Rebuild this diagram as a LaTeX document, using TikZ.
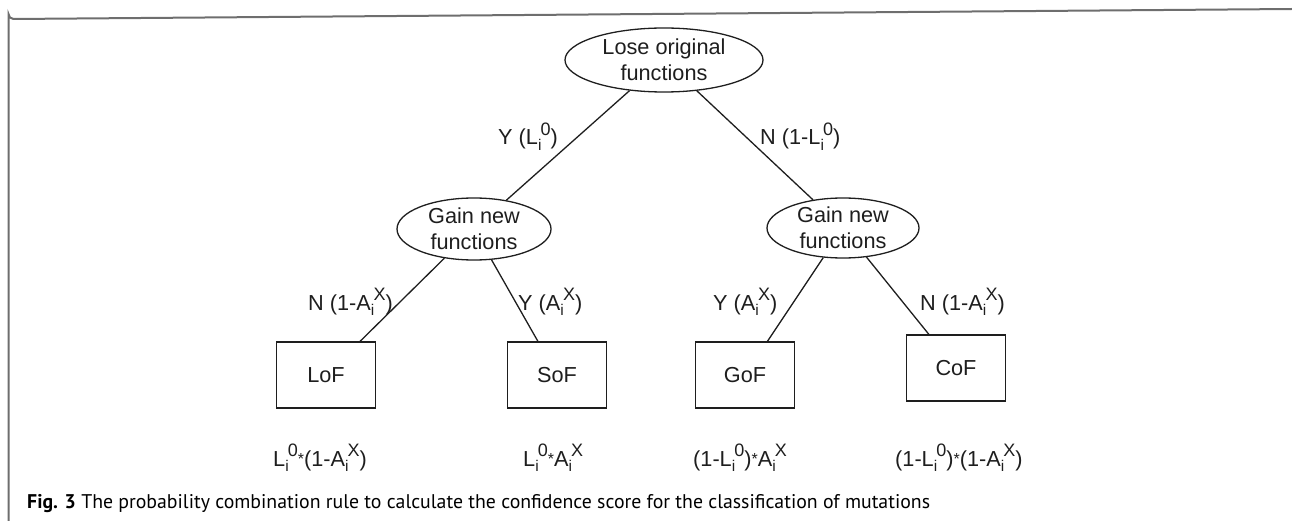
\documentclass[tikz,border=0pt]{standalone}
\usepackage{fontspec}
\setmainfont{Liberation Sans}
\newfontfamily\capfont{PT Sans}
\usetikzlibrary{shapes.geometric}
\definecolor{framegray}{RGB}{110,110,110}
\definecolor{ink}{RGB}{30,30,30}
\newcommand\sbsp[3]{#1\rlap{\raisebox{-0.24em}{\fontsize{15.5}{16}\selectfont #2}}\kern0.12em\raisebox{0.46em}{\fontsize{18}{18}\selectfont #3}}
\newcommand\Lio{\sbsp{L}{i}{0}}
\newcommand\Aix{\sbsp{A}{i}{X}}
\newcommand\mystar{\raisebox{0.05em}{\fontsize{16}{16}\selectfont *}}
\begin{document}
\begin{tikzpicture}[x=1pt,y=-1pt,
  every node/.style={font=\fontsize{21.7}{26}\selectfont, text=ink},
  ell/.style={draw=ink, ellipse, line width=1.3pt, inner sep=0pt, align=center},
  box/.style={draw=ink, rectangle, line width=1.3pt, minimum width=99pt, minimum height=66pt},
  lbl/.style={anchor=base west, inner sep=0pt},
  conn/.style={draw=ink, line width=1.3pt},
  frameline/.style={line width=2pt, draw=framegray}]
\useasboundingbox (0,0) rectangle (1292,521);
% frame
\draw[frameline] (8.5,521) -- (8.5,14) arc[start angle=180, end angle=90, radius=5] -- (1292,9);
% nodes
\node[ell, minimum width=198pt, minimum height=64pt] (top) at (664,60) {Lose original\\functions};
\node[ell, minimum width=154pt, minimum height=62pt] (gl) at (474,229) {Gain new\\functions};
\node[ell, minimum width=152pt, minimum height=60pt] (gr) at (843,228) {Gain new\\functions};
\node[box] (lof) at (326,375) {LoF};
\node[box] (sof) at (557,375) {SoF};
\node[box] (gof) at (745,375) {GoF};
\node[box] (cof) at (956,368) {CoF};
% connectors
\draw[conn] (top) -- (gl);
\draw[conn] (top) -- (gr);
\draw[conn] (gl) -- (lof);
\draw[conn] (gl) -- (sof);
\draw[conn] (gr) -- (gof);
\draw[conn] (gr) -- (cof);
% edge labels
\node[lbl] (l1) at (498,145) {Y (\Lio)};
\node[lbl] (l2) at (760,145) {N (1-\Lio)};
\node[lbl] (l3) at (308,310) {N (1-\Aix)};
\node[lbl] (l4) at (518,310) {Y (\Aix)};
\node[lbl] (l5) at (713,310) {Y (\Aix)};
\node[lbl] (l6) at (920,310) {N (1-\Aix)};
% formulas
\node[lbl] (f1) at (273,466) {\Lio\mystar(1-\Aix)};
\node[lbl] (f2) at (523,466) {\Lio\mystar\Aix};
\node[lbl] (f3) at (693,466) {(1-\Lio)\mystar\Aix};
\node[lbl] (f4) at (895,466) {(1-\Lio)\mystar(1-\Aix)};
% caption
\node[lbl, font=\capfont\fontsize{19.8}{23}\selectfont, text=black] (cap) at (27,508) {\textbf{Fig. 3} The probability combination rule to calculate the confidence score for the classification of mutations};
\end{tikzpicture}
\end{document}
